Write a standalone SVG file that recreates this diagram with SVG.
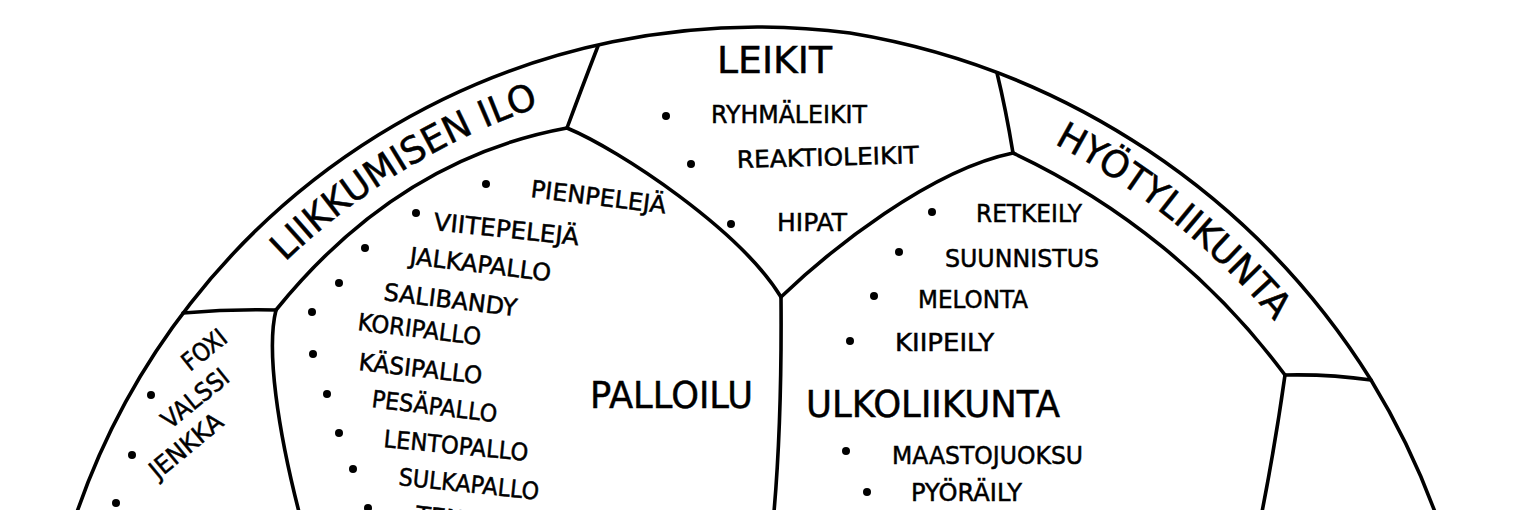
<svg xmlns="http://www.w3.org/2000/svg" width="1533" height="510" viewBox="0 0 1533 510">
<style>
.ln{fill:none;stroke:#000;stroke-width:3.6;stroke-linecap:round;stroke-linejoin:round}
.t{font-family:"DejaVu Sans","Liberation Sans",sans-serif;fill:#000;stroke:#000;stroke-width:0.5}
.big{font-size:37px}
.sm{font-size:24px}
.dn{font-size:25px}
.dot{fill:#000}
</style>
<defs>
<path id="arcL" d="M 285.2 262.1 A 678 678 0 0 1 639.3 81.3"/>
<path id="arcR" d="M 1054.1 143.6 A 746 746 0 0 1 1350.5 429.6"/>
</defs>
<rect width="1533" height="510" fill="#fff"/>
<g id="connectors">
<path class="ln" d="M 77 512 A 720 720 0 0 1 850 33 A 760 760 0 0 1 1371 380 A 760 760 0 0 1 1435 512"/>
<path class="ln" d="M 183 313 Q 230 309 276 310"/>
<path class="ln" d="M 276 310 Q 398 159 567 128"/>
<path class="ln" d="M 598 46 Q 581 90 567 128"/>
<path class="ln" d="M 567 128 C 620 150 740 230 781 297"/>
<path class="ln" d="M 781 297 Q 782 420 774 512"/>
<path class="ln" d="M 781 297 C 830 250 930 170 1013 153"/>
<path class="ln" d="M 997 73 Q 1006 110 1013 153"/>
<path class="ln" d="M 1013 153 A 719 719 0 0 1 1285 375"/>
<path class="ln" d="M 1285 375 Q 1330 374 1371 380"/>
<path class="ln" d="M 1285 375 Q 1276 440 1262 512"/>
<path class="ln" d="M 276 310 C 266 350 278 430 299 512"/>
</g>
<g id="band-liikkumisen-ilo">
<text class="t big"><textPath href="#arcL" textLength="300" lengthAdjust="spacingAndGlyphs">LIIKKUMISEN ILO</textPath></text>
</g>
<g id="band-hyotyliikunta">
<text class="t big"><textPath href="#arcR" textLength="285" lengthAdjust="spacingAndGlyphs">HYÖTYLIIKUNTA</textPath></text>
</g>
<g id="leikit">
<text class="t big" x="717" y="73" textLength="115" lengthAdjust="spacingAndGlyphs">LEIKIT</text>
<circle class="dot" cx="666" cy="116" r="4"/>
<text class="t sm" x="711" y="123" textLength="156" lengthAdjust="spacingAndGlyphs">RYHMÄLEIKIT</text>
<circle class="dot" cx="691" cy="164" r="4"/>
<text class="t sm" x="737" y="168" textLength="182" lengthAdjust="spacingAndGlyphs" transform="rotate(-1.5 737 168)">REAKTIOLEIKIT</text>
<circle class="dot" cx="731" cy="224" r="4"/>
<text class="t sm" x="777" y="231" textLength="70" lengthAdjust="spacingAndGlyphs">HIPAT</text>
</g>
<g id="palloilu">
<text class="t big" x="590" y="408" textLength="163" lengthAdjust="spacingAndGlyphs">PALLOILU</text>
<circle class="dot" cx="486" cy="184" r="4"/>
<text class="t sm" x="530" y="197" textLength="136" lengthAdjust="spacingAndGlyphs" transform="rotate(7 530 197)">PIENPELEJÄ</text>
<circle class="dot" cx="416" cy="213" r="4"/>
<text class="t sm" x="433" y="230" textLength="146" lengthAdjust="spacingAndGlyphs" transform="rotate(6 433 230)">VIITEPELEJÄ</text>
<circle class="dot" cx="365" cy="248" r="4"/>
<text class="t sm" x="409" y="264" textLength="142" lengthAdjust="spacingAndGlyphs" transform="rotate(7 409 264)">JALKAPALLO</text>
<circle class="dot" cx="339" cy="283" r="4"/>
<text class="t sm" x="383" y="300" textLength="134" lengthAdjust="spacingAndGlyphs" transform="rotate(7 383 300)">SALIBANDY</text>
<circle class="dot" cx="312" cy="312" r="4"/>
<text class="t sm" x="357" y="330" textLength="124" lengthAdjust="spacingAndGlyphs" transform="rotate(7 357 330)">KORIPALLO</text>
<circle class="dot" cx="313" cy="354" r="4"/>
<text class="t sm" x="358" y="370" textLength="124" lengthAdjust="spacingAndGlyphs" transform="rotate(6.5 358 370)">KÄSIPALLO</text>
<circle class="dot" cx="327" cy="394" r="4"/>
<text class="t sm" x="371" y="407" textLength="126" lengthAdjust="spacingAndGlyphs" transform="rotate(7 371 407)">PESÄPALLO</text>
<circle class="dot" cx="339" cy="433" r="4"/>
<text class="t sm" x="383" y="447" textLength="145" lengthAdjust="spacingAndGlyphs" transform="rotate(5.5 383 447)">LENTOPALLO</text>
<circle class="dot" cx="353" cy="469" r="4"/>
<text class="t sm" x="398" y="485" textLength="141" lengthAdjust="spacingAndGlyphs" transform="rotate(6 398 485)">SULKAPALLO</text>
<circle class="dot" cx="368" cy="508" r="4"/>
<text class="t sm" x="415" y="523" transform="rotate(6 415 523)">TENNIS</text>
</g>
<g id="ulkoliikunta">
<circle class="dot" cx="932" cy="212" r="4"/>
<text class="t sm" x="976" y="222" textLength="106" lengthAdjust="spacingAndGlyphs">RETKEILY</text>
<circle class="dot" cx="899" cy="252" r="4"/>
<text class="t sm" x="945" y="267" textLength="154" lengthAdjust="spacingAndGlyphs">SUUNNISTUS</text>
<circle class="dot" cx="874" cy="296" r="4"/>
<text class="t sm" x="918" y="308" textLength="110" lengthAdjust="spacingAndGlyphs">MELONTA</text>
<circle class="dot" cx="850" cy="341" r="4"/>
<text class="t sm" x="895" y="351" textLength="99" lengthAdjust="spacingAndGlyphs">KIIPEILY</text>
<text class="t big" x="806" y="417" textLength="254" lengthAdjust="spacingAndGlyphs">ULKOLIIKUNTA</text>
<circle class="dot" cx="846" cy="451" r="4"/>
<text class="t sm" x="892" y="464" textLength="191" lengthAdjust="spacingAndGlyphs">MAASTOJUOKSU</text>
<circle class="dot" cx="867" cy="492" r="4"/>
<text class="t sm" x="911" y="501" textLength="111" lengthAdjust="spacingAndGlyphs">PYÖRÄILY</text>
</g>
<g id="tanssi">
<text class="t dn" x="190" y="372" textLength="50" lengthAdjust="spacingAndGlyphs" transform="rotate(-38.5 190 372)">FOXI</text>
<circle class="dot" cx="151" cy="395" r="4"/>
<text class="t dn" x="170" y="430" textLength="79" lengthAdjust="spacingAndGlyphs" transform="rotate(-39 170 430)">VALSSI</text>
<circle class="dot" cx="132" cy="455" r="4"/>
<text class="t dn" x="158" y="480" textLength="87" lengthAdjust="spacingAndGlyphs" transform="rotate(-39.5 158 480)">JENKKA</text>
<circle class="dot" cx="116" cy="503" r="4"/>
</g>
</svg>
